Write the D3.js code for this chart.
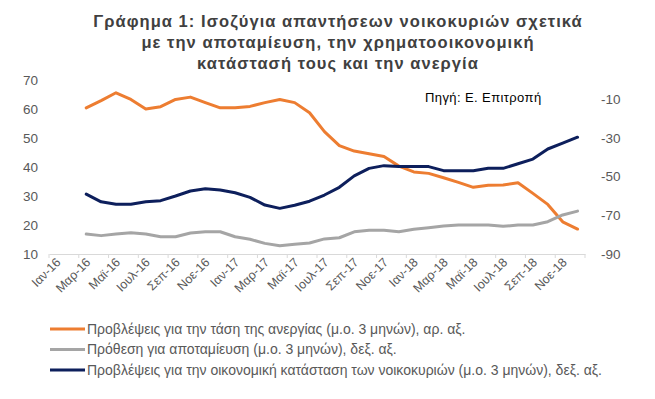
<!DOCTYPE html>
<html>
<head>
<meta charset="utf-8">
<script src="https://cdn.jsdelivr.net/npm/d3@7"></script>
<style>
  html, body { margin: 0; padding: 0; background: #fff; }
  svg { display: block; font-family: "Liberation Sans", Arial, sans-serif; }
</style>
</head>
<body>
<svg id="chart" width="655" height="399"></svg>
<script>
// ---- data ----
const monthNames = ["Ιαν","Φεβ","Μαρ","Απρ","Μαϊ","Ιουν","Ιουλ","Αυγ","Σεπ","Οκτ","Νοε","Δεκ"];
const years = ["16","17","18"];
const categories = years.flatMap(y => monthNames.map(m => m + "-" + y));
const tickLabels = ["Ιαν-16","Μαρ-16","Μαϊ-16","Ιουλ-16","Σεπ-16","Νοε-16",
                    "Ιαν-17","Μαρ-17","Μαϊ-17","Ιουλ-17","Σεπ-17","Νοε-17",
                    "Ιαν-18","Μαρ-18","Μαϊ-18","Ιουλ-18","Σεπ-18","Νοε-18"];
const leftTicks = [10,20,30,40,50,60,70];
const rightTicks = [-90,-70,-50,-30,-10];
// series start at Μαρ-16 (3-month averages)
const seriesStart = "Μαρ-16";
const unemployment = [60.4,62.9,65.6,63.3,60.0,60.8,63.3,64.1,62.2,60.4,60.4,60.9,62.2,63.3,62.2,58.7,
                      52.2,47.4,45.5,44.6,43.6,40.3,38.3,37.8,36.3,34.7,33.0,33.7,33.8,34.6,30.9,27.1,21.1,18.6];
const saving = [-79.7,-80.5,-79.7,-79.0,-79.7,-81.1,-81.1,-79.1,-78.5,-78.5,-81.1,-82.4,-84.5,-85.7,-85.0,-84.3,
                -82.2,-81.6,-78.5,-77.7,-77.7,-78.5,-77.2,-76.4,-75.5,-75.0,-75.0,-75.0,-75.7,-75.0,-75.0,-73.3,-69.8,-67.8];
const financial = [-59.0,-63.0,-64.3,-64.3,-63.0,-62.4,-60.0,-57.4,-56.2,-56.9,-58.3,-60.7,-64.7,-66.4,-64.8,-62.7,
                   -59.5,-55.5,-49.6,-45.7,-44.3,-44.8,-44.8,-44.8,-46.9,-46.9,-46.9,-45.7,-45.7,-43.3,-40.9,-35.7,-32.7,-29.6];
const titleLines = ["Γράφημα 1: Ισοζύγια απαντήσεων νοικοκυριών σχετικά",
                    "με την αποταμίευση, την χρηματοοικονομική",
                    "κατάστασή τους και την ανεργία"];
const sourceText = "Πηγή: Ε. Επιτροπή";
const legendLabels = ["Προβλέψεις για την τάση της ανεργίας (μ.ο. 3 μηνών), αρ. αξ.",
                      "Πρόθεση για αποταμίευση (μ.ο. 3 μηνών), δεξ. αξ.",
                      "Προβλέψεις για την οικονομική κατάσταση των νοικοκυριών (μ.ο. 3 μηνών), δεξ. αξ."];
const colors = ["#ED7D31", "#A5A5A5", "#0D1F5C"];

// ---- chart ----
const svg = d3.select("#chart");
const plot = {left: 49, right: 585, top: 80, bottom: 254};

const x = d3.scaleBand().domain(categories).range([plot.left, plot.right]).padding(0);
const yL = d3.scaleLinear().domain([10, 70]).range([plot.bottom, plot.top]);
const yR = d3.scaleLinear().domain([-90, 0]).range([plot.bottom, plot.top]);
const cx = c => x(c) + x.bandwidth() / 2;
const startIdx = categories.indexOf(seriesStart);

// title
svg.append("g").selectAll("text").data(titleLines).join("text")
  .attr("x", 338).attr("y", (d, i) => 27 + i * 21)
  .attr("text-anchor", "middle")
  .attr("font-size", 16.5).attr("font-weight", "bold")
  .attr("fill", "#404040").attr("letter-spacing", 1.05)
  .text(d => d);

// left axis labels
svg.append("g").selectAll("text").data(leftTicks).join("text")
  .attr("x", 38).attr("y", d => yL(d)).attr("dy", "0.35em")
  .attr("text-anchor", "end").attr("font-size", 13.5).attr("fill", "#595959")
  .text(d => d);

// right axis labels
svg.append("g").selectAll("text").data(rightTicks).join("text")
  .attr("x", 601).attr("y", d => yR(d)).attr("dy", "0.35em")
  .attr("text-anchor", "start").attr("font-size", 13.5).attr("fill", "#595959")
  .text(d => d);

// x axis
const xAxis = d3.axisBottom(x)
  .tickValues(categories.filter((c, i) => i % 2 === 0))
  .tickSize(0).tickFormat("");
const gx = svg.append("g").attr("transform", `translate(0,${plot.bottom})`).call(xAxis);
gx.select(".domain").attr("stroke", "#D9D9D9").attr("stroke-width", 1);
const tickPos = d3.range(0, categories.length + 1, 2).map(i => i < categories.length ? x(categories[i]) : plot.right);
svg.append("g").selectAll("line").data(tickPos).join("line")
  .attr("x1", d => d).attr("x2", d => d)
  .attr("y1", plot.bottom).attr("y2", plot.bottom + 4)
  .attr("stroke", "#D9D9D9");

// x labels
svg.append("g").selectAll("text").data(tickLabels).join("text")
  .attr("transform", d => `translate(${cx(d) + 5},${plot.bottom + 9}) rotate(-45)`)
  .attr("text-anchor", "end").attr("font-size", 12.5).attr("fill", "#595959")
  .text(d => d);

// lines
const mk = (vals, scale) => vals.map((v, i) => ({c: categories[startIdx + i], v, scale}));
const series = [
  {data: unemployment, scale: yL, color: colors[0]},
  {data: saving, scale: yR, color: colors[1]},
  {data: financial, scale: yR, color: colors[2]}
];
const lineGen = d3.line().x(d => cx(d.c)).y(d => d.scale(d.v));
svg.append("g").selectAll("path").data(series).join("path")
  .attr("d", s => lineGen(mk(s.data, s.scale)))
  .attr("fill", "none").attr("stroke", s => s.color)
  .attr("stroke-width", 3).attr("stroke-linejoin", "round").attr("stroke-linecap", "round");

// source
svg.append("text").attr("x", 425).attr("y", 102)
  .attr("font-size", 13).attr("fill", "#000").attr("letter-spacing", 0.4).text(sourceText);

// legend
const lg = svg.append("g").selectAll("g").data(legendLabels).join("g")
  .attr("transform", (d, i) => `translate(50,${329 + i * 20.5})`);
lg.append("line").attr("x1", 0).attr("x2", 35).attr("y1", 0).attr("y2", 0)
  .attr("stroke", (d, i) => colors[i]).attr("stroke-width", 3);
lg.append("text").attr("x", 37).attr("y", 0).attr("dy", "0.35em")
  .attr("font-size", 14).attr("fill", "#595959").text(d => d);
</script>
</body>
</html>
